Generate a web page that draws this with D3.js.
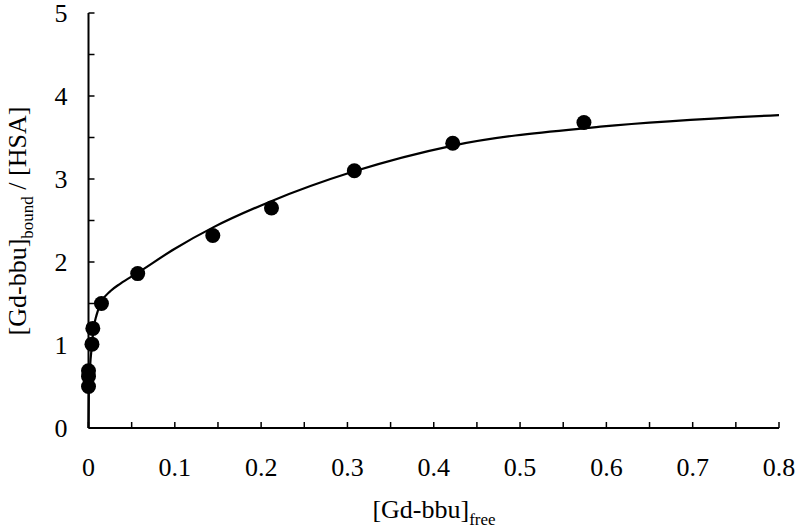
<!DOCTYPE html>
<html>
<head>
<meta charset="utf-8">
<script src="https://cdn.jsdelivr.net/npm/d3@7"></script>
<style>
  html, body { margin: 0; padding: 0; background: #fff; }
  svg { display: block; }
  text { font-family: "Liberation Serif", "Times New Roman", serif; fill: #000; }
</style>
</head>
<body>
<svg id="chart" width="800" height="530"></svg>
<script>
// Measured points: [Gd-bbu]free vs [Gd-bbu]bound/[HSA]
const freeConc  = [0.000, 0.000, 0.000, 0.004, 0.005, 0.015, 0.057, 0.144, 0.212, 0.308, 0.422, 0.574];
const boundRatio = [0.50, 0.62, 0.69, 1.01, 1.20, 1.50, 1.86, 2.32, 2.65, 3.10, 3.43, 3.68];

// Fitted curve
const curveX = [0, 0.0004, 0.0017, 0.004, 0.0058, 0.0093, 0.015, 0.0255, 0.037, 0.057, 0.1, 0.145, 0.211, 0.307, 0.421, 0.593, 0.8];
const curveY = [0, 0.40, 0.72, 1.00, 1.19, 1.36, 1.52, 1.65, 1.74, 1.87, 2.16, 2.42, 2.73, 3.09, 3.40, 3.63, 3.77];

const xTicks = [0, 0.1, 0.2, 0.3, 0.4, 0.5, 0.6, 0.7, 0.8];
const yTicks = [0, 1, 2, 3, 4, 5];

const svg = d3.select("#chart");
const x = d3.scaleLinear().domain([0, 0.8]).range([88.5, 779]);
const y = d3.scaleLinear().domain([0, 5]).range([428, 13]);

// axes
const xMinor = d3.range(0, 0.8001, 0.05);
const yMinor = d3.range(0, 5.001, 0.5);

const gx = svg.append("g");
gx.append("line").attr("x1", x(0)).attr("x2", x(0.8)).attr("y1", y(0)).attr("y2", y(0))
  .attr("stroke", "#000").attr("stroke-width", 2);
gx.selectAll("line.t").data(xMinor).join("line").attr("class", "t")
  .attr("x1", d => x(d)).attr("x2", d => x(d)).attr("y1", y(0)).attr("y2", y(0) - 6)
  .attr("stroke", "#000").attr("stroke-width", 1.5);
gx.selectAll("text").data(xTicks).join("text")
  .attr("x", d => x(d)).attr("y", y(0) + 48)
  .attr("text-anchor", "middle").attr("font-size", 26)
  .text(d => d === 0 ? "0" : d3.format(".1f")(d));

const gy = svg.append("g");
gy.append("line").attr("x1", x(0)).attr("x2", x(0)).attr("y1", y(0)).attr("y2", y(5))
  .attr("stroke", "#000").attr("stroke-width", 2);
gy.selectAll("line.t").data(yMinor).join("line").attr("class", "t")
  .attr("x1", x(0)).attr("x2", x(0) + 6).attr("y1", d => y(d)).attr("y2", d => y(d))
  .attr("stroke", "#000").attr("stroke-width", 1.5);
gy.selectAll("text").data(yTicks).join("text")
  .attr("x", x(0) - 21).attr("y", d => y(d) + 9)
  .attr("text-anchor", "end").attr("font-size", 26)
  .text(d => d);

// curve
const line = d3.line().x(d => x(d[0])).y(d => y(d[1])).curve(d3.curveMonotoneX);
svg.append("path").datum(curveX.map((v, i) => [v, curveY[i]]))
  .attr("d", line).attr("fill", "none").attr("stroke", "#000").attr("stroke-width", 2.2);

// points
svg.selectAll("circle").data(freeConc.map((v, i) => [v, boundRatio[i]])).join("circle")
  .attr("cx", d => x(d[0])).attr("cy", d => y(d[1])).attr("r", 7.5).attr("fill", "#000");

// x title
const xt = svg.append("text").attr("x", 434).attr("y", 518).attr("text-anchor", "middle").attr("font-size", 26);
xt.append("tspan").text("[Gd-bbu]");
xt.append("tspan").attr("font-size", 17).attr("dy", 7).text("free");

// y title
const yt = svg.append("text").attr("transform", "translate(26,221) rotate(-90)")
  .attr("text-anchor", "middle").attr("font-size", 26);
yt.append("tspan").text("[Gd-bbu]");
yt.append("tspan").attr("font-size", 17).attr("dy", 7).text("bound");
yt.append("tspan").attr("dy", -7).text(" / [HSA]");
</script>
</body>
</html>
